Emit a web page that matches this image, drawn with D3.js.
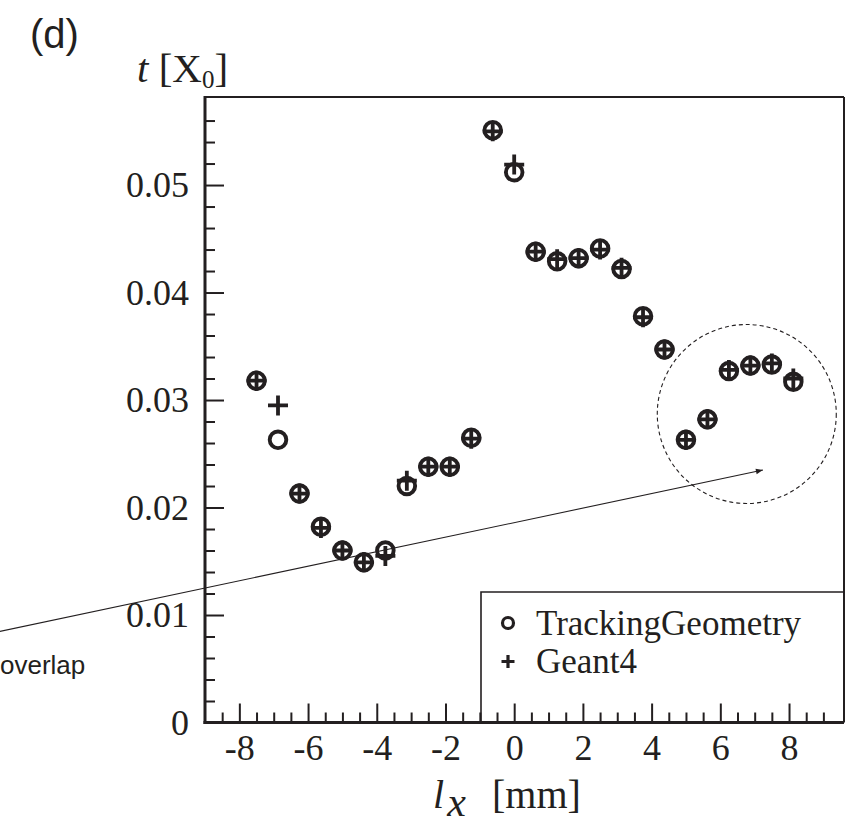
<!DOCTYPE html>
<html>
<head>
<meta charset="utf-8">
<script src="https://cdnjs.cloudflare.com/ajax/libs/d3/7.8.5/d3.min.js"></script>
<style>
  body { margin: 0; background: #fff; }
  svg { display: block; }
</style>
</head>
<body>
<div id="chart-area"></div>
<script>
//============================DATA============================
// position along the bar (mm), one entry per scan point
var lx = [-7.5, -6.875, -6.25, -5.625, -5.0, -4.375, -3.75, -3.125, -2.5, -1.875, -1.25, -0.625,
          0.0, 0.625, 1.25, 1.875, 2.5, 3.125, 3.75, 4.375, 5.0, 5.625, 6.25, 6.875, 7.5, 8.125];

// material thickness in X0
var trackingGeometry = [0.0318, 0.0263, 0.0213, 0.0182, 0.0160, 0.0149, 0.0160, 0.0220, 0.0238, 0.0238, 0.0265, 0.0551,
                        0.0512, 0.0438, 0.0429, 0.0432, 0.0441, 0.0422, 0.0378, 0.0347, 0.0263, 0.0282, 0.0327, 0.0332, 0.0333, 0.0317];
var geant4 =           [0.0318, 0.0295, 0.0213, 0.0181, 0.0160, 0.0149, 0.0155, 0.0225, 0.0238, 0.0238, 0.0264, 0.0550,
                        0.0519, 0.0438, 0.0431, 0.0432, 0.0440, 0.0423, 0.0377, 0.0347, 0.0263, 0.0282, 0.0328, 0.0332, 0.0334, 0.0320];

var xMajorTicks = [-8, -6, -4, -2, 0, 2, 4, 6, 8];
var yMajorTicks = [0, 0.01, 0.02, 0.03, 0.04, 0.05];
var legendLabels = ["TrackingGeometry", "Geant4"];

// annotation: arrow from the "overlap" note into the dashed circle (data units)
var arrowFrom = [-14.97, 0.00847];
var arrowTo = [7.24, 0.02349];
var circleCenter = [6.77, 0.0287];
var circleRadiusMm = 2.605;

//============================GLOBALS============================
var W = 846, H = 826;
var frame = { left: 205, right: 844, top: 97, bottom: 722.5 };

var svg = d3.select("#chart-area")
    .append("svg")
    .attr("width", W)
    .attr("height", H);

var x = d3.scaleLinear()
    .domain([-9.0, 9.6])
    .range([frame.left, frame.right]);

var y = d3.scaleLinear()
    .domain([0, 0.05819])
    .range([frame.bottom, frame.top]);

var serif = "'Liberation Serif', 'Times New Roman', Times, serif";
var sans = "'Liberation Sans', Arial, Helvetica, sans-serif";
var ink = "#231f20";

// minor ticks
var xMinor = d3.range(-17, 19).map(function(i){ return i * 0.5; })
    .filter(function(v){ return v > -9 && v < 9.6 && xMajorTicks.indexOf(v) < 0; });
var yMinor = d3.range(0, 30).map(function(i){ return +(i * 0.002).toFixed(3); })
    .filter(function(v){ return v > 0 && v < 0.058 && yMajorTicks.indexOf(v) < 0; });

svg.append("g")
    .attr("class", "x minor")
    .attr("transform", "translate(0," + frame.bottom + ")")
    .call(d3.axisBottom(x).tickValues(xMinor).tickSize(-10).tickFormat(""));

svg.append("g")
    .attr("class", "y minor")
    .attr("transform", "translate(" + frame.left + ",0)")
    .call(d3.axisLeft(y).tickValues(yMinor).tickSize(-10).tickFormat(""));

// major ticks + labels
svg.append("g")
    .attr("class", "x axis")
    .attr("transform", "translate(0," + frame.bottom + ")")
    .call(d3.axisBottom(x).tickValues(xMajorTicks).tickSize(-19).tickPadding(12)
        .tickFormat(function(d){ return String(d); }));

svg.append("g")
    .attr("class", "y axis")
    .attr("transform", "translate(" + frame.left + ",0)")
    .call(d3.axisLeft(y).tickValues(yMajorTicks).tickSize(-19).tickPadding(16)
        .tickFormat(function(d){ return d === 0 ? "0" : d.toFixed(2); }));

svg.selectAll(".domain").remove();
svg.selectAll(".tick line")
    .attr("stroke", ink)
    .attr("stroke-width", 2);
svg.selectAll(".tick text")
    .attr("fill", ink)
    .attr("font-family", serif)
    .attr("font-size", "36px");

// frame: thick axes on left/bottom, thinner on top/right
svg.append("line").attr("x1", frame.left).attr("x2", frame.right).attr("y1", frame.top).attr("y2", frame.top)
    .attr("stroke", ink).attr("stroke-width", 2);
svg.append("line").attr("x1", frame.right).attr("x2", frame.right).attr("y1", frame.top).attr("y2", frame.bottom)
    .attr("stroke", ink).attr("stroke-width", 2);
svg.append("line").attr("x1", frame.left).attr("x2", frame.left).attr("y1", frame.top - 1).attr("y2", frame.bottom + 1.5)
    .attr("stroke", ink).attr("stroke-width", 3);
svg.append("line").attr("x1", frame.left - 1.5).attr("x2", frame.right).attr("y1", frame.bottom).attr("y2", frame.bottom)
    .attr("stroke", ink).attr("stroke-width", 3);

// legend box (left and top edges; right/bottom are the frame)
var leg = { x: 481, y: 592 };
svg.append("path")
    .attr("d", "M" + leg.x + "," + frame.bottom + "V" + leg.y + "H" + frame.right)
    .attr("fill", "none")
    .attr("stroke", ink)
    .attr("stroke-width", 1.6);

// annotation: dashed circle + arrow
svg.append("defs").append("marker")
    .attr("id", "arrowhead")
    .attr("viewBox", "0 0 10 10")
    .attr("refX", 10).attr("refY", 5)
    .attr("markerWidth", 9).attr("markerHeight", 7)
    .attr("markerUnits", "userSpaceOnUse")
    .attr("orient", "auto")
    .append("path")
    .attr("d", "M0,1 L10,5 L0,9 Z")
    .attr("fill", ink);

svg.append("circle")
    .attr("cx", x(circleCenter[0]))
    .attr("cy", y(circleCenter[1]))
    .attr("r", x(circleRadiusMm) - x(0))
    .attr("fill", "none")
    .attr("stroke", ink)
    .attr("stroke-width", 1.1)
    .attr("stroke-dasharray", "4,3");

svg.append("line")
    .attr("x1", x(arrowFrom[0])).attr("y1", y(arrowFrom[1]))
    .attr("x2", x(arrowTo[0])).attr("y2", y(arrowTo[1]))
    .attr("stroke", ink)
    .attr("stroke-width", 1.1)
    .attr("marker-end", "url(#arrowhead)");

svg.append("text")
    .attr("x", 0).attr("y", 674)
    .attr("font-family", sans)
    .attr("font-size", "26px")
    .attr("fill", ink)
    .text("overlap");

//============================MARKS============================
var pts = lx.map(function(v, i){ return { lx: v, tg: trackingGeometry[i], g4: geant4[i] }; });

// open circles (TrackingGeometry)
svg.append("g").selectAll("circle")
    .data(pts)
    .enter()
    .append("circle")
    .attr("cx", function(d){ return x(d.lx); })
    .attr("cy", function(d){ return y(d.tg); })
    .attr("r", 8.3)
    .attr("fill", "none")
    .attr("stroke", ink)
    .attr("stroke-width", 3.9);

// crosses (Geant4)
var plusSize = 10;
svg.append("g").selectAll("path")
    .data(pts)
    .enter()
    .append("path")
    .attr("d", function(d){
        var cx = x(d.lx), cy = y(d.g4);
        return "M" + (cx - plusSize) + "," + cy + "H" + (cx + plusSize) +
               "M" + cx + "," + (cy - plusSize) + "V" + (cy + plusSize);
    })
    .attr("fill", "none")
    .attr("stroke", ink)
    .attr("stroke-width", 3.8);

//============================LEGEND============================
svg.append("circle")
    .attr("cx", 508).attr("cy", 623)
    .attr("r", 5.5)
    .attr("fill", "none")
    .attr("stroke", ink)
    .attr("stroke-width", 3.2);
svg.append("path")
    .attr("d", "M501.5,661.5H514.5M508,655V668")
    .attr("stroke", ink)
    .attr("stroke-width", 3.2);

legendLabels.forEach(function(lbl, i){
    svg.append("text")
        .attr("x", 536)
        .attr("y", 635 + i * 38)
        .attr("font-family", serif)
        .attr("font-size", "35px")
        .attr("fill", ink)
        .text(lbl);
});

//============================LABELS============================
svg.append("text")
    .attr("x", 30).attr("y", 48)
    .attr("font-family", sans)
    .attr("font-size", "40px")
    .attr("fill", ink)
    .text("(d)");

// y title: t [X0]
var yt = svg.append("text")
    .attr("x", 137).attr("y", 82)
    .attr("font-family", serif)
    .attr("font-size", "41px")
    .attr("fill", ink);
yt.append("tspan").attr("font-style", "italic").text("t");
yt.append("tspan").text("\u00a0[X");
yt.append("tspan").attr("font-size", "25px").attr("dy", 6).attr("dx", 0).text("0");
yt.append("tspan").attr("dy", -6).text("]");

// x title: l_x [mm]
var xt = svg.append("text")
    .attr("x", 433).attr("y", 808)
    .attr("font-family", serif)
    .attr("font-size", "40px")
    .attr("fill", ink);
xt.append("tspan").attr("font-style", "italic").text("l");
xt.append("tspan").attr("font-style", "italic").attr("font-size", "42px").attr("dx", 3).attr("dy", 8).text("x");
xt.append("tspan").attr("x", 492).attr("dy", -8).text("[mm]");
</script>
</body>
</html>
